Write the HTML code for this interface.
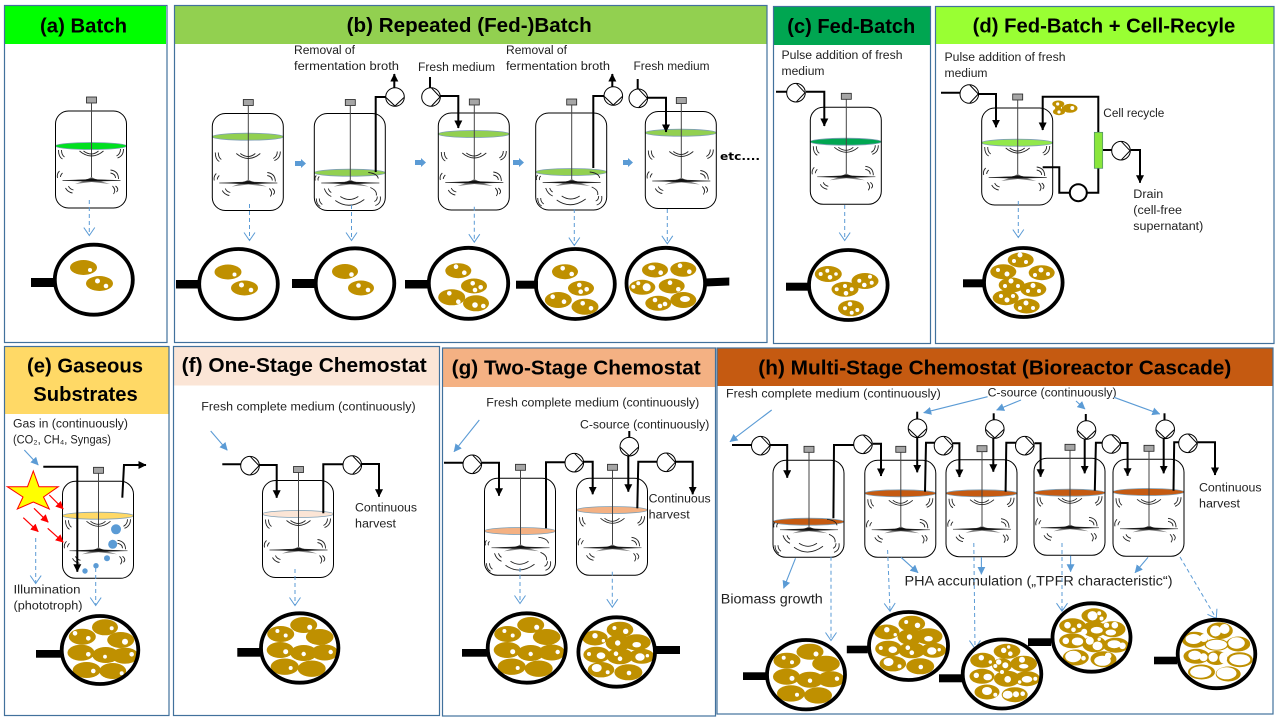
<!DOCTYPE html>
<html>
<head>
<meta charset="utf-8">
<style>
html,body{margin:0;padding:0;background:#fff;width:1280px;height:720px;overflow:hidden}
svg{display:block}
text{font-family:"Liberation Sans",sans-serif;fill:#111}
.t{font-size:20px;font-weight:bold;fill:#000}
.s{font-size:11.5px;fill:#222}
.panel{fill:none;stroke:#41719c;stroke-width:1.2}
.pipe{fill:none;stroke:#000;stroke-width:2}
.dash{fill:none;stroke:#5b9bd5;stroke-width:1;stroke-dasharray:4 3}
.blue{fill:none;stroke:#5b9bd5;stroke-width:1.1}
.red{fill:none;stroke:#f00;stroke-width:1.2}
.m{fill:none;stroke:#000;stroke-width:3.800}
.l{stroke:#7f9fb5;stroke-width:.8}
</style>
</head>
<body>
<svg width="1280" height="720" viewBox="0 0 1280 720" xmlns="http://www.w3.org/2000/svg">
<defs>
<marker id="a" markerWidth="8" markerHeight="8" refX="7.500" refY="4" orient="auto" markerUnits="userSpaceOnUse" viewBox="0 0 8 8"><path d="M0,0L8,4L0,8z" fill="#000"/></marker>
<marker id="b" markerWidth="8" markerHeight="8" refX="7.500" refY="4" orient="auto" markerUnits="userSpaceOnUse" viewBox="0 0 8 8"><path d="M0,0L8,4L0,8z" fill="#5b9bd5"/></marker>
<marker id="r" markerWidth="8" markerHeight="8" refX="7.500" refY="4" orient="auto" markerUnits="userSpaceOnUse" viewBox="0 0 8 8"><path d="M0,0L8,4L0,8z" fill="#f00"/></marker>
<marker id="o" markerWidth="10" markerHeight="12" refX="8.500" refY="6" orient="auto" markerUnits="userSpaceOnUse" viewBox="0 0 10 12"><path d="M1,.5L9,6L1,11.500" fill="none" stroke="#5b9bd5" stroke-width="1"/></marker>

<g id="imp">
<path d="M19.500,73L30,69.300L36,66L42,69.300L54.500,73L36,71z" fill="#808080"/>
<path d="M7,69.500L30,68.600L36,67.500L42,68.600L65,69.500L42,70.200H30z" fill="#111" stroke="#111" stroke-width=".4"/>
</g>
<g id="R" fill="none">
<rect x="0" y="0" width="71" height="97" rx="13" stroke="#000" stroke-width="1"/>
<rect x="31" y="-14" width="10" height="6" fill="#a6a6a6" stroke="#222" stroke-width=".8"/>
<path d="M36,-8V67" stroke="#444" stroke-width="1"/>
<use href="#imp"/>
<g stroke="#222" stroke-width=".9">
<path d="M24,40Q36,50 48,40M28,40Q36,46 43,40"/>
<path d="M3,39Q3,46 7,48M6,39Q6,44 9,46M68,38Q68,45 62,47M65,38Q65,43 61,45"/>
<path d="M55,59Q63,60 63,68M55,62Q60,63 60,67M4,60Q1,63 2,67M7,62Q5,64 5,66"/>
<path d="M10,77Q12,81 17,82M13,75Q14,78 18,79M57,75Q61,79 58,83M60,75Q64,78 61,81"/>
</g>
</g>
<g id="L" fill="none">
<rect x="0" y="0" width="71" height="97" rx="13" stroke="#000" stroke-width="1"/>
<rect x="31" y="-14" width="10" height="6" fill="#a6a6a6" stroke="#222" stroke-width=".8"/>
<path d="M36,-8V67" stroke="#444" stroke-width="1"/>
<use href="#imp"/>
<g stroke="#222" stroke-width=".9">
<path d="M21,87Q35,97 50,86M26,83Q35,89 44,83"/>
<path d="M2,85Q2,91 6,93M5,85Q5,89 8,91M66,83Q67,90 61,92M63,83Q63,87 60,88"/>
<path d="M10,75Q12,81 17,83M14,75Q15,78 17,79M56,74Q63,77 62,82"/>
<path d="M54,59Q63,60 64,65M2,62Q0,64 1,67M5,63Q3,65 4,67"/>
</g>
</g>
<g id="p">
<circle r="9.300" fill="#fff" stroke="#000" stroke-width="1"/>
<path d="M0.500,-9L9,0L0.500,9" fill="none" stroke="#000" stroke-width="1"/>
</g>

<g id="cA">
<g fill="#bf9000">
<ellipse cx="4" cy="-23" rx="13.500" ry="8"/><ellipse cx="-19" cy="-14" rx="13.500" ry="8"/><ellipse cx="20" cy="-11" rx="13.800" ry="8"/>
<ellipse cx="-19.500" cy="2" rx="13.500" ry="8"/><ellipse cx="4" cy="5" rx="13.500" ry="8"/><ellipse cx="25" cy="4.500" rx="13.500" ry="8"/>
<ellipse cx="-15" cy="18.700" rx="14" ry="8.200"/><ellipse cx="12" cy="20.700" rx="14" ry="8.200"/>
</g>
<g fill="#fff">
<circle cx="10" cy="-20.700" r="2.500"/><circle cx="-22.300" cy="-17" r="2"/><circle cx="-14" cy="-12.500" r="2"/>
<circle cx="-14" cy="3.700" r="2.500"/><circle cx="4" cy="6" r="2.200"/><circle cx="31" cy="4" r="2.200"/><circle cx="-9" cy="20" r="2"/>
</g>
</g>
<g id="cB">
<g fill="#bf9000">
<ellipse cx="3.300" cy="-22.300" rx="13.300" ry="8"/><ellipse cx="-21.700" cy="-14" rx="12.700" ry="7.500"/><ellipse cx="20" cy="-9.700" rx="14" ry="8"/>
<ellipse cx="1.700" cy="-9" rx="12.700" ry="8"/><ellipse cx="-20" cy="2.700" rx="13.300" ry="8"/><ellipse cx="3.300" cy="4.300" rx="13.300" ry="8"/>
<ellipse cx="25" cy="4.300" rx="12.700" ry="7.500"/><ellipse cx="-15.700" cy="17.700" rx="13.300" ry="7.700"/><ellipse cx="11.700" cy="20.300" rx="14" ry="8"/>
</g>
<g fill="#fff">
<circle cx="-2.300" cy="-24" r="2"/><circle cx="9" cy="-20.700" r="2.700"/><circle cx="-21.700" cy="-16.300" r="2.700"/><circle cx="-13.300" cy="-11.300" r="1.700"/>
<ellipse cx="20" cy="-7.300" rx="4.300" ry="2.700"/><circle cx="1" cy="-9" r="2.700"/><circle cx="-27.700" cy="2" r="2"/><ellipse cx="-15.700" cy="3.700" rx="4.300" ry="3.300"/>
<circle cx="-0.700" cy="1.700" r="2.300"/><circle cx="3.300" cy="6.700" r="2.300"/><ellipse cx="23.300" cy="5" rx="4.700" ry="3.700"/><circle cx="30.700" cy="3.700" r="1.700"/>
<ellipse cx="-20" cy="16" rx="5" ry="4"/><circle cx="-9" cy="20.300" r="2"/><circle cx="12.300" cy="21" r="2.300"/>
</g>
</g>
<g id="cC">
<g fill="#bf9000">
<ellipse cx="5" cy="-22.700" rx="13.300" ry="7.500"/><ellipse cx="-19.300" cy="-13.700" rx="12.500" ry="7.500"/><ellipse cx="21.700" cy="-10.300" rx="13.300" ry="8"/>
<ellipse cx="0" cy="-8.700" rx="10" ry="7"/><ellipse cx="-20" cy="2.300" rx="12.500" ry="7.500"/><ellipse cx="5" cy="4.700" rx="13" ry="8"/>
<ellipse cx="25" cy="4.700" rx="13" ry="7.500"/><ellipse cx="-15" cy="18" rx="12.500" ry="7.500"/><ellipse cx="12.700" cy="20.700" rx="13" ry="7.500"/>
</g>
<g fill="#fff">
<circle cx="1.700" cy="-23.700" r="2.700"/><circle cx="8.300" cy="-20.300" r="2.300"/><circle cx="6.700" cy="-27" r="1.700"/>
<circle cx="-20.700" cy="-16.300" r="2.700"/><circle cx="-11.700" cy="-12" r="1.700"/>
<circle cx="20" cy="-14.300" r="3"/><ellipse cx="21.700" cy="-7.700" rx="4.700" ry="2.300"/>
<circle cx="-3.300" cy="-12" r="2.700"/><circle cx="3.300" cy="-8.700" r="3"/><circle cx="-6.700" cy="-8" r="2"/>
<circle cx="-25.700" cy="1.300" r="2.700"/><ellipse cx="-14.300" cy="3" rx="4.300" ry="3.300"/>
<circle cx="0" cy="-2" r="2"/><circle cx="5.700" cy="5.300" r="3.300"/><circle cx="17.700" cy="8" r="1.700"/>
<ellipse cx="25" cy="5.300" rx="5.300" ry="3.300"/><circle cx="33.300" cy="4.700" r="2"/>
<ellipse cx="-15" cy="17" rx="5" ry="4"/><circle cx="-6.700" cy="20.700" r="2"/>
<ellipse cx="5.700" cy="20.700" rx="5" ry="4"/><circle cx="14" cy="20.300" r="3"/><circle cx="20.700" cy="19.700" r="2.300"/>
</g>
</g>
<g id="cD">
<g fill="#bf9000">
<ellipse cx="2.700" cy="-21.700" rx="12.700" ry="7.500"/><ellipse cx="-19" cy="-11.700" rx="13.300" ry="7.500"/><ellipse cx="21" cy="-8.300" rx="13" ry="8"/>
<ellipse cx="2.700" cy="-8.300" rx="12" ry="8"/><ellipse cx="-19" cy="3.300" rx="13.300" ry="7.500"/><ellipse cx="2.700" cy="6.700" rx="12" ry="8"/>
<ellipse cx="24.300" cy="7.700" rx="13" ry="7.500"/><ellipse cx="-15.700" cy="20" rx="13" ry="8"/><ellipse cx="12" cy="21.700" rx="13" ry="8"/>
</g>
<g fill="#fff">
<ellipse cx="1" cy="-21.700" rx="5" ry="4.700"/><circle cx="7.700" cy="-24.300" r="2"/><circle cx="10" cy="-19" r="2"/>
<circle cx="-24" cy="-12.300" r="3.300"/><circle cx="-18" cy="-7.700" r="2.300"/><circle cx="-12.300" cy="-11.700" r="2.300"/>
<ellipse cx="5.300" cy="-7.300" rx="6" ry="3.300"/><circle cx="-7.300" cy="-5.700" r="3"/><circle cx="15" cy="-12.300" r="2.700"/><circle cx="23.300" cy="-12.300" r="3.300"/><ellipse cx="19.300" cy="-5" rx="5.300" ry="3"/>
<circle cx="-25.700" cy="3.300" r="3.300"/><ellipse cx="-14" cy="4" rx="5.700" ry="4"/><circle cx="-1.700" cy="3.300" r="4"/><ellipse cx="6" cy="8.300" rx="5" ry="4.300"/><circle cx="7.700" cy="1.700" r="1.700"/>
<ellipse cx="22.700" cy="6.700" rx="6.700" ry="4"/><circle cx="31" cy="8.300" r="3.300"/>
<ellipse cx="-18.300" cy="19" rx="8" ry="5.700"/><circle cx="-8" cy="20.700" r="2.300"/><ellipse cx="11" cy="23.300" rx="8.300" ry="5"/><circle cx="16.700" cy="18.300" r="3.300"/>
</g>
</g>
<g id="cE">
<g fill="#bf9000">
<ellipse cx="3.300" cy="-23.300" rx="13" ry="8.300"/><ellipse cx="-21.700" cy="-14.300" rx="13" ry="8"/><ellipse cx="0" cy="-9.300" rx="12" ry="6"/>
<ellipse cx="21.700" cy="-10" rx="12" ry="7.500"/><ellipse cx="-20" cy="2.300" rx="13" ry="7.500"/><ellipse cx="0" cy="4" rx="11" ry="7"/>
<ellipse cx="23.300" cy="5.700" rx="13" ry="7.500"/><ellipse cx="-15" cy="18" rx="13.500" ry="7.500"/><ellipse cx="11.700" cy="20" rx="12.500" ry="7.500"/>
</g>
<g fill="#fff">
<circle cx="-1" cy="-23" r="5.500"/><circle cx="8" cy="-25" r="5"/><ellipse cx="-23" cy="-15" rx="8" ry="5"/><circle cx="-12.700" cy="-16" r="4"/>
<ellipse cx="0" cy="-9.300" rx="10.500" ry="5"/><ellipse cx="20" cy="-11" rx="8.300" ry="5.700"/>
<ellipse cx="-21.700" cy="1.300" rx="6.500" ry="4.700"/><circle cx="-13" cy="3.300" r="4"/><circle cx="-3.300" cy="3.300" r="4.700"/><ellipse cx="6.700" cy="4" rx="4" ry="5.500"/>
<ellipse cx="23.300" cy="5.700" rx="10.500" ry="5.500"/><ellipse cx="-15.700" cy="18" rx="10.700" ry="5.700"/><ellipse cx="10" cy="19.300" rx="10" ry="6"/>
</g>
</g>
</defs>

<rect width="1280" height="720" fill="#fff"/>

<!-- headers -->
<rect x="4.500" y="5" width="161.500" height="39" fill="#00ff00"/>
<rect x="174.500" y="5" width="592.500" height="39" fill="#92d050"/>
<rect x="773" y="6" width="157.500" height="39" fill="#00a651"/>
<rect x="935.500" y="6" width="338.500" height="38" fill="#99ff33"/>
<rect x="4.500" y="346" width="164" height="68" fill="#ffd966"/>
<rect x="173.500" y="346.500" width="266" height="39" fill="#fbe5d6"/>
<rect x="442.500" y="348" width="273" height="39" fill="#f4b183"/>
<rect x="717" y="348" width="556" height="38" fill="#c55a11"/>

<!-- panels -->
<rect class="panel" x="4.500" y="5.500" width="162.500" height="337"/>
<rect class="panel" x="174.500" y="5.500" width="592.500" height="337"/>
<rect class="panel" x="773.500" y="6.500" width="157" height="337"/>
<rect class="panel" x="935.500" y="6.500" width="338.500" height="337"/>
<rect class="panel" x="4.500" y="346.500" width="164.500" height="369"/>
<rect class="panel" x="173.500" y="346.500" width="266" height="369"/>
<rect class="panel" x="442.500" y="348" width="273" height="368"/>
<rect class="panel" x="717" y="348" width="556" height="366"/>

<!-- titles -->
<text class="t" x="40" y="32.500" textLength="87" lengthAdjust="spacingAndGlyphs">(a) Batch</text>
<text class="t" x="346.700" y="32" textLength="245" lengthAdjust="spacingAndGlyphs">(b) Repeated (Fed-)Batch</text>
<text class="t" x="787.300" y="33" textLength="128" lengthAdjust="spacingAndGlyphs">(c) Fed-Batch</text>
<text class="t" x="972.700" y="32.500" textLength="262.600" lengthAdjust="spacingAndGlyphs">(d) Fed-Batch + Cell-Recyle</text>
<text class="t" x="27" y="372.300" textLength="116" lengthAdjust="spacingAndGlyphs">(e) Gaseous</text>
<text class="t" x="33.300" y="401" textLength="104.400" lengthAdjust="spacingAndGlyphs">Substrates</text>
<text class="t" x="181.700" y="372" textLength="245" lengthAdjust="spacingAndGlyphs">(f) One-Stage Chemostat</text>
<text class="t" x="451.700" y="374.300" textLength="249" lengthAdjust="spacingAndGlyphs">(g) Two-Stage Chemostat</text>
<text class="t" x="758.300" y="374.300" textLength="473" lengthAdjust="spacingAndGlyphs">(h) Multi-Stage Chemostat (Bioreactor Cascade)</text>

<!-- small labels -->
<text class="s" x="294" y="54" textLength="61" lengthAdjust="spacingAndGlyphs">Removal of</text>
<text class="s" x="294" y="70" textLength="105" lengthAdjust="spacingAndGlyphs">fermentation broth</text>
<text class="s" x="418" y="71" textLength="77" lengthAdjust="spacingAndGlyphs">Fresh medium</text>
<text class="s" x="506" y="54" textLength="61" lengthAdjust="spacingAndGlyphs">Removal of</text>
<text class="s" x="506" y="70" textLength="104" lengthAdjust="spacingAndGlyphs">fermentation broth</text>
<text class="s" x="633.500" y="70" textLength="76" lengthAdjust="spacingAndGlyphs">Fresh medium</text>
<text x="720" y="160" textLength="40" lengthAdjust="spacingAndGlyphs" style="font-family:'DejaVu Sans',sans-serif;font-weight:bold;font-size:11px;fill:#000">etc....</text>
<text class="s" x="781.500" y="59" textLength="121" lengthAdjust="spacingAndGlyphs">Pulse addition of fresh</text>
<text class="s" x="781.500" y="75" textLength="43" lengthAdjust="spacingAndGlyphs">medium</text>
<text class="s" x="944.500" y="61" textLength="121" lengthAdjust="spacingAndGlyphs">Pulse addition of fresh</text>
<text class="s" x="944.500" y="77" textLength="43" lengthAdjust="spacingAndGlyphs">medium</text>
<text class="s" x="1103.300" y="117" textLength="61" lengthAdjust="spacingAndGlyphs">Cell recycle</text>
<text class="s" x="1133.300" y="198" textLength="30" lengthAdjust="spacingAndGlyphs">Drain</text>
<text class="s" x="1133.300" y="214" textLength="48.700" lengthAdjust="spacingAndGlyphs">(cell-free</text>
<text class="s" x="1133.300" y="230" textLength="70" lengthAdjust="spacingAndGlyphs">supernatant)</text>
<text class="s" x="13" y="427.700" textLength="115" lengthAdjust="spacingAndGlyphs">Gas in (continuously)</text>
<text class="s" x="13" y="443.700" textLength="98" lengthAdjust="spacingAndGlyphs">(CO₂, CH₄, Syngas)</text>
<text class="s" x="13.500" y="593.700" textLength="67" lengthAdjust="spacingAndGlyphs">Illumination</text>
<text class="s" x="13.500" y="609.700" textLength="69" lengthAdjust="spacingAndGlyphs">(phototroph)</text>
<text class="s" x="201.300" y="410.700" textLength="214.300" lengthAdjust="spacingAndGlyphs">Fresh complete medium (continuously)</text>
<text class="s" x="355" y="511.700" textLength="62" lengthAdjust="spacingAndGlyphs">Continuous</text>
<text class="s" x="355" y="527.700" textLength="41" lengthAdjust="spacingAndGlyphs">harvest</text>
<text class="s" x="486.300" y="406.700" textLength="213" lengthAdjust="spacingAndGlyphs">Fresh complete medium (continuously)</text>
<text class="s" x="580" y="428.300" textLength="129.300" lengthAdjust="spacingAndGlyphs">C-source (continuously)</text>
<text class="s" x="648.700" y="502.700" textLength="62" lengthAdjust="spacingAndGlyphs">Continuous</text>
<text class="s" x="648.700" y="518.700" textLength="41" lengthAdjust="spacingAndGlyphs">harvest</text>
<text class="s" x="726" y="397.700" textLength="214.800" lengthAdjust="spacingAndGlyphs">Fresh complete medium (continuously)</text>
<text class="s" x="987.600" y="396.700" textLength="129" lengthAdjust="spacingAndGlyphs">C-source (continuously)</text>
<text class="s" x="1199" y="491.700" textLength="62.500" lengthAdjust="spacingAndGlyphs">Continuous</text>
<text class="s" x="1199" y="507.700" textLength="41" lengthAdjust="spacingAndGlyphs">harvest</text>
<text x="904.500" y="585.700" textLength="268" lengthAdjust="spacingAndGlyphs" style="font-size:13.500px;fill:#222">PHA accumulation („TPFR characteristic“)</text>
<text x="720.800" y="603.700" textLength="102" lengthAdjust="spacingAndGlyphs" style="font-size:13.500px;fill:#222">Biomass growth</text>

<!-- liquids -->
<g class="l">
<ellipse cx="91" cy="146" rx="35.500" ry="3.500" fill="#00e020"/>
<ellipse cx="247.800" cy="136.700" rx="35.500" ry="3.500" fill="#92d050"/>
<ellipse cx="349.800" cy="172.700" rx="35.500" ry="3.500" fill="#92d050"/>
<ellipse cx="473.800" cy="134" rx="35.500" ry="3.500" fill="#92d050"/>
<ellipse cx="571.200" cy="172" rx="35.500" ry="3.500" fill="#92d050"/>
<ellipse cx="680.800" cy="132.700" rx="35.500" ry="3.500" fill="#92d050"/>
<ellipse cx="845.800" cy="141.700" rx="35.500" ry="3.500" fill="#00a651"/>
<ellipse cx="1017.200" cy="142.700" rx="35.500" ry="3.500" fill="#92e84b"/>
<ellipse cx="98" cy="515.700" rx="35.500" ry="3.500" fill="#ffd966"/>
<ellipse cx="298" cy="514" rx="35.500" ry="3.500" fill="#fbe5d6"/>
<ellipse cx="520" cy="531" rx="35.500" ry="3.500" fill="#f4b183"/>
<ellipse cx="612" cy="510" rx="35.500" ry="3.500" fill="#f4b183"/>
<ellipse cx="808.500" cy="521.700" rx="35.500" ry="3.500" fill="#c55a11"/>
<ellipse cx="900.300" cy="493.300" rx="35.500" ry="3.500" fill="#c55a11"/>
<ellipse cx="981.500" cy="493.300" rx="35.500" ry="3.500" fill="#c55a11"/>
<ellipse cx="1069.500" cy="492.700" rx="35.500" ry="3.500" fill="#c55a11"/>
<ellipse cx="1148.500" cy="492" rx="35.500" ry="3.500" fill="#c55a11"/>
</g>

<!-- reactors -->
<use href="#R" x="55.500" y="111"/>
<use href="#R" x="212.300" y="113.500"/>
<use href="#L" x="314.300" y="113.500"/>
<use href="#R" x="438.300" y="113"/>
<use href="#L" x="535.700" y="113"/>
<use href="#R" x="645.300" y="111.500"/>
<use href="#R" x="810.300" y="107.300"/>
<use href="#R" x="981.700" y="108"/>
<use href="#R" x="62.500" y="481.300"/>
<use href="#R" x="262.500" y="480.500"/>
<use href="#L" x="484.500" y="478.300"/>
<use href="#R" x="576.500" y="478.300"/>
<use href="#L" x="773" y="460.300"/>
<use href="#R" x="864.800" y="460.300"/>
<use href="#R" x="946" y="459.700"/>
<use href="#R" x="1034" y="458.300"/>
<use href="#R" x="1113" y="459.300"/>

<!-- pipes -->
<g class="pipe">
<path d="M375.700,172V97H388"/>
<path d="M394.300,88V74" marker-end="url(#a)"/>
<path d="M430,77V88"/>
<path d="M440,96H458.300V128" marker-end="url(#a)"/>
<path d="M593.300,168V96H606"/>
<path d="M612.300,88V74" marker-end="url(#a)"/>
<path d="M637.700,79V89.500"/>
<path d="M648,97.700H666V132" marker-end="url(#a)"/>
<path d="M776,91.700H787M806,91.700H824.300V126" marker-end="url(#a)"/>
<path d="M941,92.700H960M979,94H996V127.300" marker-end="url(#a)"/>
<path d="M1098.300,132.700V96.700H1042.700V130" marker-end="url(#a)"/>
<path d="M1098.300,168V192.700H1087M1069,192.700H1059.300V167.300H1042.700"/>
<path d="M1102.700,150H1112M1130.700,150H1140V182.700" marker-end="url(#a)"/>
<path d="M43.300,466.700H77.300V571.700" marker-end="url(#a)"/>
<path d="M122.300,497.700L124,465H146" marker-end="url(#a)"/>
<path d="M222.300,464.300H241M259.300,465H276.700V497.700" marker-end="url(#a)"/>
<path d="M323.300,513.300V464.300H343"/>
<path d="M361.700,464H379V496.700" marker-end="url(#a)"/>
<path d="M444,462.700H463M482,462.700H499V495.700" marker-end="url(#a)"/>
<path d="M546,528.300V462.300H565"/>
<path d="M583,461.700H592.700V494.300" marker-end="url(#a)"/>
<path d="M629.300,431V438"/>
<path d="M628.300,455.700V491.700" marker-end="url(#a)"/>
<path d="M637.300,508.300L638.300,461.700H657"/>
<path d="M675.300,461.700H692.700V494.300" marker-end="url(#a)"/>
<path d="M732,445H752M770,445H787.200V477.700" marker-end="url(#a)"/>
<path d="M833.400,518.300L834,445H854"/>
<path d="M872.800,443.700H881V476" marker-end="url(#a)"/>
<path d="M917.200,411.700V420"/>
<path d="M917.200,436.700V472.300" marker-end="url(#a)"/>
<path d="M925,491.700L926,442.700H935"/>
<path d="M953,443.300H959.400V477" marker-end="url(#a)"/>
<path d="M993.700,413.300V421"/>
<path d="M993.300,437.700V471.700" marker-end="url(#a)"/>
<path d="M1005.600,491.700L1006.300,442.700H1016"/>
<path d="M1034.500,443.300H1040.600V476.700" marker-end="url(#a)"/>
<path d="M1085.800,414V421.700"/>
<path d="M1084.700,438V473.300" marker-end="url(#a)"/>
<path d="M1094.800,490.700L1095.900,442.700H1103"/>
<path d="M1121,443H1127.600V475.700" marker-end="url(#a)"/>
<path d="M1164.500,413.300V421"/>
<path d="M1163.700,437.700V473.300" marker-end="url(#a)"/>
<path d="M1173.500,490.700L1174.200,442.300H1179"/>
<path d="M1197.700,442.300H1215V475" marker-end="url(#a)"/>
</g>

<!-- filter + recycled cells -->
<rect x="1094.300" y="132.300" width="8.400" height="36" fill="#8ae63c" stroke="#4a8a6a" stroke-width=".7"/>
<g fill="#bf9000">
<ellipse cx="1058.300" cy="104" rx="6" ry="3.500"/><ellipse cx="1059" cy="111.700" rx="6" ry="3.500"/><ellipse cx="1058" cy="108" rx="3" ry="2.500"/><ellipse cx="1070" cy="108.300" rx="7.500" ry="4.500"/><rect x="1062" y="106.500" width="4" height="3.500"/>
</g>
<g fill="#fff"><circle cx="1057.700" cy="104" r="1.600"/><circle cx="1059" cy="112" r="1.600"/><circle cx="1072.300" cy="108" r="2"/></g>

<!-- pumps -->
<use href="#p" transform="translate(395,97) rotate(90)"/>
<use href="#p" x="431" y="97"/>
<use href="#p" transform="translate(613.300,96) rotate(90)"/>
<use href="#p" x="638.300" y="98.300"/>
<use href="#p" x="796" y="92.700"/>
<use href="#p" x="969.300" y="94"/>
<use href="#p" x="1121" y="150.700"/>
<circle cx="1078.300" cy="192.700" r="8.500" fill="#fff" stroke="#000" stroke-width="2"/>
<use href="#p" x="250" y="465.700"/>
<use href="#p" x="352.300" y="465"/>
<use href="#p" x="472.300" y="464.300"/>
<use href="#p" x="574.300" y="462.700"/>
<use href="#p" transform="translate(629.300,446.700) rotate(90)"/>
<use href="#p" x="666.300" y="462.300"/>
<use href="#p" x="760.800" y="445.700"/>
<use href="#p" x="863" y="444.300"/>
<use href="#p" transform="translate(917.500,428.300) rotate(90)"/>
<use href="#p" x="943.500" y="445.700"/>
<use href="#p" transform="translate(994.800,429) rotate(90)"/>
<use href="#p" x="1024.800" y="445.700"/>
<use href="#p" transform="translate(1086.500,430) rotate(90)"/>
<use href="#p" x="1111.400" y="444"/>
<use href="#p" transform="translate(1165.200,429.300) rotate(90)"/>
<use href="#p" x="1188" y="443.300"/>

<!-- block arrows -->
<g fill="#5b9bd5">
<path d="M295,161H301V159L306,163.500L301,168V166H295z"/>
<path d="M415,160H421V158L426,162.500L421,167V165H415z"/>
<path d="M513,160H519V158L524,162.500L519,167V165H513z"/>
<path d="M623,160H628V158L633,162.500L628,167V165H623z"/>
</g>

<!-- star, gas -->
<polygon points="33.300,471 39,486.700 58.300,486.700 43.500,497 49.300,509 33.300,502 17.300,509 23,497 7.300,486.700 27.500,486.700" fill="#ffff00" stroke="#f00" stroke-width="1"/>
<g class="red">
<path d="M49.300,495L63.300,509" marker-end="url(#r)"/>
<path d="M34,508.300L48.300,522.300" marker-end="url(#r)"/>
<path d="M23.300,517.700L38.300,531.700" marker-end="url(#r)"/>
<path d="M47.700,528.300L63.300,542.300" marker-end="url(#r)"/>
</g>
<g fill="#5b9bd5">
<circle cx="116" cy="529.300" r="5"/><circle cx="112.700" cy="544.300" r="4.500"/><circle cx="107" cy="558.300" r="3"/><circle cx="96" cy="565.700" r="2.700"/><circle cx="85" cy="571" r="2.700"/>
</g>

<!-- dashed arrows -->
<g class="dash">
<path d="M89.300,200V235" marker-end="url(#o)"/>
<path d="M249.500,204V240" marker-end="url(#o)"/>
<path d="M351.500,205V240" marker-end="url(#o)"/>
<path d="M474.300,206.700V241.700" marker-end="url(#o)"/>
<path d="M574.300,209V245" marker-end="url(#o)"/>
<path d="M667.300,209V243.300" marker-end="url(#o)"/>
<path d="M844.700,205V240" marker-end="url(#o)"/>
<path d="M1018.300,201V237" marker-end="url(#o)"/>
<path d="M35.700,538V583" marker-end="url(#o)"/>
<path d="M95.700,568V605" marker-end="url(#o)"/>
<path d="M295,569V605" marker-end="url(#o)"/>
<path d="M520,568V603" marker-end="url(#o)"/>
<path d="M612.300,571.700V606.700" marker-end="url(#o)"/>
<path d="M831,556.700V640" marker-end="url(#o)"/>
<path d="M887.600,550L890,610.700" marker-end="url(#o)"/>
<path d="M973.800,543L975,648" marker-end="url(#o)"/>
<path d="M1062,543V610.700" marker-end="url(#o)"/>
<path d="M1180,557L1216,618" marker-end="url(#o)"/>
</g>

<!-- solid blue arrows -->
<g class="blue">
<path d="M24.300,450L38.300,465" marker-end="url(#b)"/>
<path d="M210.700,431L227.300,450.300" marker-end="url(#b)"/>
<path d="M479.300,420L454,451.700" marker-end="url(#b)"/>
<path d="M771.700,410L730,441.700" marker-end="url(#b)"/>
<path d="M987.600,396.700L923.700,412.700" marker-end="url(#b)"/>
<path d="M1021,400L996.600,410" marker-end="url(#b)"/>
<path d="M1076,401L1085,409" marker-end="url(#b)"/>
<path d="M1114,397.300L1159.800,414" marker-end="url(#b)"/>
<path d="M795.500,558.300L783.600,588.300" marker-end="url(#b)"/>
<path d="M901,557.300L918,572.700" marker-end="url(#b)"/>
<path d="M981.400,557V574.300" marker-end="url(#b)"/>
<path d="M1070.600,555.700V571.700" marker-end="url(#b)"/>
<path d="M1148,557.300L1135,572.700" marker-end="url(#b)"/>
</g>

<!-- microscope handles -->
<g fill="#000">
<rect x="31" y="278" width="24" height="9"/>
<rect x="176" y="280" width="23" height="8.500"/>
<rect x="292" y="279" width="24" height="9"/>
<rect x="405" y="280" width="24" height="8.500"/>
<rect x="516" y="280.700" width="22" height="8"/>
<polygon points="705,278.500 729.300,277.500 729.300,285.500 705,286.500"/>
<rect x="786" y="282.700" width="23" height="8"/>
<rect x="963" y="279.300" width="21" height="8"/>
<rect x="36" y="650" width="25" height="7.700"/>
<rect x="237.300" y="648" width="23" height="8.700"/>
<rect x="462" y="649" width="25" height="7.700"/>
<rect x="656" y="646" width="24" height="8"/>
<rect x="743" y="672.300" width="23" height="7.700"/>
<rect x="846.800" y="645.700" width="21" height="7.600"/>
<rect x="939" y="674.300" width="23" height="8"/>
<rect x="1028" y="638.300" width="23" height="7.700"/>
<rect x="1154" y="656.700" width="23" height="7.600"/>
</g>

<!-- cells top row -->
<g fill="#bf9000">
<ellipse cx="83.500" cy="267.500" rx="13.500" ry="7.500"/><ellipse cx="99.500" cy="283.500" rx="13.500" ry="7.500"/>
<ellipse cx="228" cy="272" rx="13.500" ry="7.500"/><ellipse cx="244.500" cy="288" rx="13.500" ry="7.500"/>
<ellipse cx="345" cy="271.500" rx="13" ry="7.500"/><ellipse cx="361" cy="288" rx="13" ry="7.500"/>
<ellipse cx="458.300" cy="270.700" rx="13" ry="7.500"/><ellipse cx="474" cy="286" rx="13" ry="7.500"/><ellipse cx="451.700" cy="297.300" rx="13.500" ry="8"/><ellipse cx="476" cy="303.300" rx="13" ry="8"/>
<ellipse cx="565" cy="271.700" rx="13" ry="7.500"/><ellipse cx="581" cy="288.300" rx="13" ry="7.500"/><ellipse cx="558.300" cy="300" rx="13.500" ry="8"/><ellipse cx="585" cy="306.700" rx="13.500" ry="8"/>
<ellipse cx="655" cy="270" rx="13" ry="7.500"/><ellipse cx="683.300" cy="269.300" rx="13" ry="7.500"/><ellipse cx="671.700" cy="286" rx="13" ry="7.500"/><ellipse cx="642.300" cy="287.300" rx="13" ry="7.500"/><ellipse cx="658.300" cy="303.300" rx="13" ry="7.500"/><ellipse cx="683.300" cy="300" rx="13" ry="8"/>
<ellipse cx="828.300" cy="274" rx="13.500" ry="8"/><ellipse cx="865" cy="281" rx="13.500" ry="8"/><ellipse cx="845" cy="289.300" rx="13.500" ry="7.500"/><ellipse cx="851" cy="308.300" rx="13" ry="8"/>
<ellipse cx="1020.700" cy="260" rx="13" ry="7.500"/><ellipse cx="1003.300" cy="271.700" rx="13" ry="7.500"/><ellipse cx="1041.700" cy="272.700" rx="13" ry="7.500"/><ellipse cx="1011.700" cy="285" rx="13" ry="7.500"/><ellipse cx="1033.300" cy="289.300" rx="13" ry="7.500"/><ellipse cx="1005.700" cy="297.700" rx="13" ry="7.500"/><ellipse cx="1026.700" cy="306" rx="13" ry="7.500"/>
<ellipse cx="105" cy="627.300" rx="13" ry="8"/><ellipse cx="82.300" cy="636.700" rx="13.500" ry="8"/><ellipse cx="120.700" cy="640" rx="13.500" ry="8"/><ellipse cx="81" cy="652.700" rx="13.500" ry="8"/><ellipse cx="105.700" cy="655" rx="13.500" ry="8"/><ellipse cx="125" cy="655.700" rx="13.500" ry="8"/><ellipse cx="86.700" cy="670" rx="14" ry="8"/><ellipse cx="112.700" cy="671" rx="13.500" ry="8"/>
</g>
<g fill="#fff">
<circle cx="90" cy="270" r="2"/><circle cx="97.500" cy="281" r="2.500"/><circle cx="106" cy="286" r="2.300"/>
<circle cx="234.500" cy="274.500" r="2"/><circle cx="241.500" cy="285" r="2.500"/><circle cx="251" cy="290" r="2.300"/>
<circle cx="351.500" cy="274.500" r="2.300"/><circle cx="358.500" cy="285.500" r="2.300"/><circle cx="368" cy="290" r="2.300"/>
<circle cx="456" cy="266.700" r="2.300"/><circle cx="464.300" cy="272.700" r="2.300"/><circle cx="472.700" cy="283.300" r="2.300"/><circle cx="475" cy="290" r="2.300"/><circle cx="480.700" cy="287.300" r="2.300"/><circle cx="449.300" cy="293.300" r="2.300"/><circle cx="458.300" cy="301.700" r="2.300"/><circle cx="475" cy="305" r="2.800"/><circle cx="483.300" cy="306" r="2.300"/>
<circle cx="562.700" cy="268.300" r="2.300"/><circle cx="571.700" cy="274" r="2.300"/><circle cx="579.300" cy="285" r="2.300"/><circle cx="580.700" cy="291.700" r="2.300"/><circle cx="586.700" cy="289.300" r="2.300"/><circle cx="552.700" cy="296.700" r="2.300"/><circle cx="564" cy="301.700" r="2.300"/><circle cx="582.700" cy="303.300" r="2.300"/><circle cx="591" cy="308.300" r="2.300"/>
<ellipse cx="651.700" cy="267.700" rx="3.500" ry="2.500"/><circle cx="660.700" cy="272.700" r="2.300"/><circle cx="680" cy="265.700" r="2.300"/><circle cx="689.300" cy="271.700" r="2.300"/><circle cx="670" cy="282.700" r="2.300"/><circle cx="678.300" cy="289.300" r="2.300"/><circle cx="633.300" cy="286.700" r="2"/><circle cx="638.300" cy="283.300" r="2"/><circle cx="646.700" cy="287.300" r="4"/><circle cx="655" cy="300" r="2.300"/><circle cx="660" cy="306" r="2.300"/><circle cx="665" cy="304" r="2.300"/><ellipse cx="685" cy="299" rx="5" ry="3"/>
<circle cx="820.700" cy="274" r="2"/><circle cx="830" cy="277.300" r="2.300"/><circle cx="827.300" cy="270.700" r="2"/><circle cx="836" cy="274" r="1.800"/>
<circle cx="859.300" cy="280.700" r="2"/><circle cx="864.300" cy="285" r="2.300"/><circle cx="870" cy="276.700" r="2"/><circle cx="871.700" cy="282.700" r="2"/>
<circle cx="836.700" cy="289.300" r="2"/><circle cx="846" cy="293.300" r="2.300"/><circle cx="845" cy="286" r="2"/><circle cx="851.700" cy="289.300" r="2"/>
<circle cx="845" cy="308.300" r="2"/><circle cx="850" cy="304" r="2.300"/><circle cx="857.300" cy="310" r="2"/><circle cx="851.700" cy="312.700" r="2"/>
<circle cx="1020" cy="255" r="2.500"/><circle cx="1014" cy="261" r="2"/><circle cx="1026" cy="262" r="2"/>
<circle cx="998" cy="270" r="2"/><circle cx="1007" cy="274" r="2.500"/><circle cx="1041" cy="270" r="2.500"/><circle cx="1048" cy="274" r="2"/><circle cx="1035" cy="275" r="2"/>
<circle cx="1011" cy="281" r="2.500"/><circle cx="1005" cy="286" r="2"/><circle cx="1018" cy="286" r="2"/>
<circle cx="1033" cy="285.500" r="2.500"/><circle cx="1039" cy="291" r="2"/><circle cx="1028" cy="291" r="2"/>
<circle cx="1001" cy="296" r="2"/><circle cx="1007" cy="300" r="2.500"/><circle cx="1013" cy="296" r="2"/>
<circle cx="1026" cy="303" r="2.500"/><circle cx="1020" cy="308" r="2"/><circle cx="1033" cy="308" r="2"/>
<circle cx="111.700" cy="628.300" r="2"/><circle cx="75" cy="633.300" r="2.300"/><circle cx="88.300" cy="638.300" r="2.300"/><circle cx="125" cy="641.700" r="3"/><circle cx="88.300" cy="654.300" r="2.300"/><circle cx="105" cy="656.700" r="1.900"/><circle cx="131.700" cy="654.300" r="2.300"/><circle cx="93.300" cy="671" r="2.300"/><circle cx="121.700" cy="673.300" r="2"/>
</g>

<!-- reused cell groups -->
<use href="#cA" x="299.700" y="648"/>
<use href="#cA" x="526.700" y="648"/>
<use href="#cB" x="616.700" y="652"/>
<use href="#cA" x="806" y="674.700"/>
<use href="#cB" x="908.500" y="646"/>
<use href="#cC" x="1002" y="674"/>
<use href="#cD" x="1091.500" y="637.500"/>
<use href="#cE" x="1216.500" y="654"/>

<!-- microscope rings -->
<ellipse class="m" cx="93.800" cy="279.700" rx="39" ry="35"/>
<ellipse class="m" cx="238.500" cy="284" rx="39.300" ry="35"/>
<ellipse class="m" cx="355" cy="283.300" rx="39.300" ry="35"/>
<ellipse class="m" cx="468.500" cy="283.300" rx="39.700" ry="35.500"/>
<ellipse class="m" cx="575.300" cy="284" rx="39.500" ry="35"/>
<ellipse class="m" cx="665.800" cy="283.300" rx="39.300" ry="35.500"/>
<ellipse class="m" cx="848.300" cy="285" rx="39.300" ry="35"/>
<ellipse class="m" cx="1023.300" cy="282.500" rx="39.300" ry="34.500"/>
<ellipse class="m" cx="100" cy="650" rx="38.300" ry="34"/>
<ellipse class="m" cx="299.700" cy="648" rx="38.700" ry="34.700"/>
<ellipse class="m" cx="526.700" cy="648" rx="39" ry="34.700"/>
<ellipse class="m" cx="616.700" cy="652" rx="38.300" ry="34.700"/>
<ellipse class="m" cx="806" cy="674.700" rx="39" ry="34.700"/>
<ellipse class="m" cx="908.500" cy="646" rx="39.500" ry="34"/>
<ellipse class="m" cx="1002" cy="674" rx="39.300" ry="34.500"/>
<ellipse class="m" cx="1091.500" cy="637.500" rx="39" ry="34.200"/>
<ellipse class="m" cx="1216.500" cy="654" rx="38.800" ry="34.200"/>
</svg>
</body>
</html>
